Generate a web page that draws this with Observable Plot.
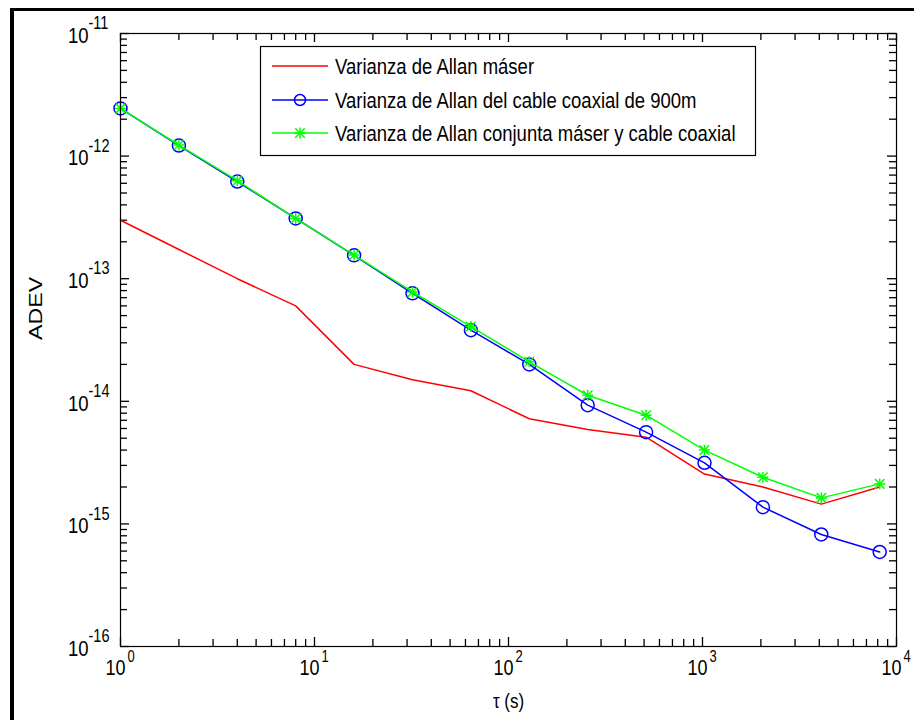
<!DOCTYPE html>
<html><head><meta charset="utf-8">
<script src="https://cdn.jsdelivr.net/npm/d3@7"></script>
<script src="https://cdn.jsdelivr.net/npm/@observablehq/plot@0.6"></script>
<style>
html,body{margin:0;padding:0;background:#fff;}
#wrap{position:relative;width:914px;height:720px;overflow:hidden;background:#fff;}
#border{position:absolute;left:10px;top:8px;width:1000px;height:1000px;border-left:4px solid #000;border-top:3px solid #000;pointer-events:none;}
</style></head><body>
<div id="wrap"><div id="chart"></div><div id="border"></div></div>
<script>
// ---- data ----
const tau   = [1, 2, 4, 8, 16, 32, 64, 128, 256, 512, 1024, 2048, 4096, 8192];
const maser = [3.0e-13, 1.73e-13, 1.0e-13, 6.0e-14, 2.0e-14, 1.5e-14, 1.22e-14, 7.2e-15, 5.9e-15, 5.1e-15, 2.55e-15, 2.0e-15, 1.45e-15, 2.0e-15];
const coax  = [2.45e-12, 1.22e-12, 6.2e-13, 3.1e-13, 1.55e-13, 7.6e-14, 3.8e-14, 2.0e-14, 9.3e-15, 5.6e-15, 3.15e-15, 1.37e-15, 8.2e-16, 5.9e-16];
const joint = [2.45e-12, 1.23e-12, 6.3e-13, 3.1e-13, 1.56e-13, 7.8e-14, 4.07e-14, 2.1e-14, 1.12e-14, 7.7e-15, 4.0e-15, 2.4e-15, 1.63e-15, 2.12e-15];
const seriesNames  = ["Varianza de Allan máser", "Varianza de Allan del cable coaxial de 900m", "Varianza de Allan conjunta máser y cable coaxial"];
const seriesColors = ["#ff0000", "#0000ff", "#00ff00"];
const xMajor = [1, 10, 100, 1000, 10000];
const yMajor = [1e-16, 1e-15, 1e-14, 1e-13, 1e-12, 1e-11];
const xLabel = "τ (s)";
const yLabel = "ADEV";

// minor log ticks (2..9 within each decade)
const minorOf = (majors) => majors.slice(0, -1).flatMap(m => [2,3,4,5,6,7,8,9].map(k => k * m));
const xMinor = minorOf(xMajor);
const yMinor = minorOf(yMajor);

const W = 914, H = 720, mL = 120, mT = 33, mR = 18, mB = 74;
const innerW = W - mL - mR, innerH = H - mT - mB;
const FONT = "Liberation Sans, Arial, Helvetica, sans-serif";
const majLen = 9, minLen = 7;
const TW = 1.3;

const rows = (ys) => tau.map((t, i) => ({t, v: ys[i]}));

const plot = Plot.plot({
  width: W, height: H,
  marginLeft: mL, marginTop: mT, marginRight: mR, marginBottom: mB,
  style: {fontFamily: FONT, background: "transparent", color: "black"},
  x: {type: "log", domain: [1, 1e4], axis: null},
  y: {type: "log", domain: [1e-16, 1e-11], axis: null},
  marks: [
    // ticks, inward, on all four sides
    Plot.tickX(xMajor, {x: d => d, insetTop: innerH - majLen, stroke: "black", strokeWidth: TW}),
    Plot.tickX(xMinor, {x: d => d, insetTop: innerH - minLen, stroke: "black", strokeWidth: TW}),
    Plot.tickX(xMajor, {x: d => d, insetBottom: innerH - majLen, stroke: "black", strokeWidth: TW}),
    Plot.tickX(xMinor, {x: d => d, insetBottom: innerH - minLen, stroke: "black", strokeWidth: TW}),
    Plot.tickY(yMajor, {y: d => d, insetRight: innerW - majLen, stroke: "black", strokeWidth: TW}),
    Plot.tickY(yMinor, {y: d => d, insetRight: innerW - minLen, stroke: "black", strokeWidth: TW}),
    Plot.tickY(yMajor, {y: d => d, insetLeft: innerW - majLen, stroke: "black", strokeWidth: TW}),
    Plot.tickY(yMinor, {y: d => d, insetLeft: innerW - minLen, stroke: "black", strokeWidth: TW}),
    // tick labels 10^n
    Plot.text(xMajor, {x: d => d, frameAnchor: "bottom", text: () => "10", textAnchor: "end", dx: 5, dy: 28, fontSize: 18, fill: "black"}),
    Plot.text(xMajor, {x: d => d, frameAnchor: "bottom", text: d => String(Math.round(Math.log10(d))), textAnchor: "start", dx: 7, dy: 15.5, fontSize: 13, fill: "black"}),
    Plot.text(yMajor, {y: d => d, frameAnchor: "left", text: () => "10", textAnchor: "end", dx: -32, dy: 2, fontSize: 18.5, fill: "black"}),
    Plot.text(yMajor, {y: d => d, frameAnchor: "left", text: d => String(Math.round(Math.log10(d))), textAnchor: "start", dx: -32, dy: -10, fontSize: 14.5, fill: "black"}),
    // axis titles
    Plot.text([xLabel], {frameAnchor: "bottom", text: d => d, dy: 61, fontSize: 17, fill: "black"}),
    Plot.text([yLabel], {frameAnchor: "left", text: d => d, rotate: -90, dx: -85, fontSize: 19, fill: "black"}),
    // series
    Plot.line(rows(maser), {x: "t", y: "v", stroke: seriesColors[0], strokeWidth: 1.5}),
    Plot.line(rows(coax), {x: "t", y: "v", stroke: seriesColors[1], strokeWidth: 1.5}),
    Plot.dot(rows(coax), {x: "t", y: "v", stroke: seriesColors[1], fill: "none", r: 6.5, strokeWidth: 1.5}),
    Plot.line(rows(joint), {x: "t", y: "v", stroke: seriesColors[2], strokeWidth: 1.5}),
    Plot.dot(rows(joint), {x: "t", y: "v", symbol: "plus", stroke: seriesColors[2], r: 3.6, strokeWidth: 1.5}),
    Plot.dot(rows(joint), {x: "t", y: "v", symbol: "times", stroke: seriesColors[2], r: 4.4, strokeWidth: 1.5}),
    Plot.frame({stroke: "black", strokeWidth: 1.2})
  ]
});
document.getElementById("chart").appendChild(plot);

// vertical stretch of text to match the reference's glyph proportions
const SY = 1.22;
plot.querySelectorAll("text").forEach(t => {
  const isY = t.textContent === yLabel;
  const sc = isY ? ` scale(${SY},1)` : ` scale(1,${SY})`;
  const tr = t.getAttribute("transform");
  if (tr) t.setAttribute("transform", tr + sc);
  else {
    const x = +t.getAttribute("x") || 0, y = +t.getAttribute("y") || 0;
    t.removeAttribute("x"); t.removeAttribute("y");
    t.setAttribute("transform", `translate(${x},${y})` + sc);
  }
});

// legend (MATLAB style box)
const svg = d3.select(plot);
const lg = svg.append("g").attr("font-family", FONT).attr("text-anchor", "start");
lg.append("rect").attr("x", 260.5).attr("y", 46.5).attr("width", 495).attr("height", 109)
  .attr("fill", "white").attr("stroke", "black").attr("stroke-width", 1.2);
const legendY = [66, 100, 133];
seriesNames.forEach((name, i) => {
  const y = legendY[i];
  lg.append("line").attr("x1", 272).attr("x2", 328).attr("y1", y).attr("y2", y)
    .attr("stroke", seriesColors[i]).attr("stroke-width", 1.5);
  if (i === 1) {
    lg.append("circle").attr("cx", 300).attr("cy", y).attr("r", 5.5)
      .attr("fill", "none").attr("stroke", seriesColors[i]).attr("stroke-width", 1.5);
  }
  if (i === 2) {
    lg.append("path").attr("d", d3.symbol(d3.symbolPlus, Math.PI * 3.6 * 3.6)())
      .attr("transform", `translate(300,${y})`).attr("fill", "none").attr("stroke", seriesColors[i]).attr("stroke-width", 1.5);
    lg.append("path").attr("d", d3.symbol(d3.symbolTimes, Math.PI * 4.4 * 4.4)())
      .attr("transform", `translate(300,${y})`).attr("fill", "none").attr("stroke", seriesColors[i]).attr("stroke-width", 1.5);
  }
  lg.append("text").attr("transform", `translate(335,${y}) scale(1,${SY})`)
    .attr("text-anchor", "start").attr("dy", "0.35em").attr("font-size", 18.5).attr("fill", "black").text(name);
});
</script>
</body></html>
